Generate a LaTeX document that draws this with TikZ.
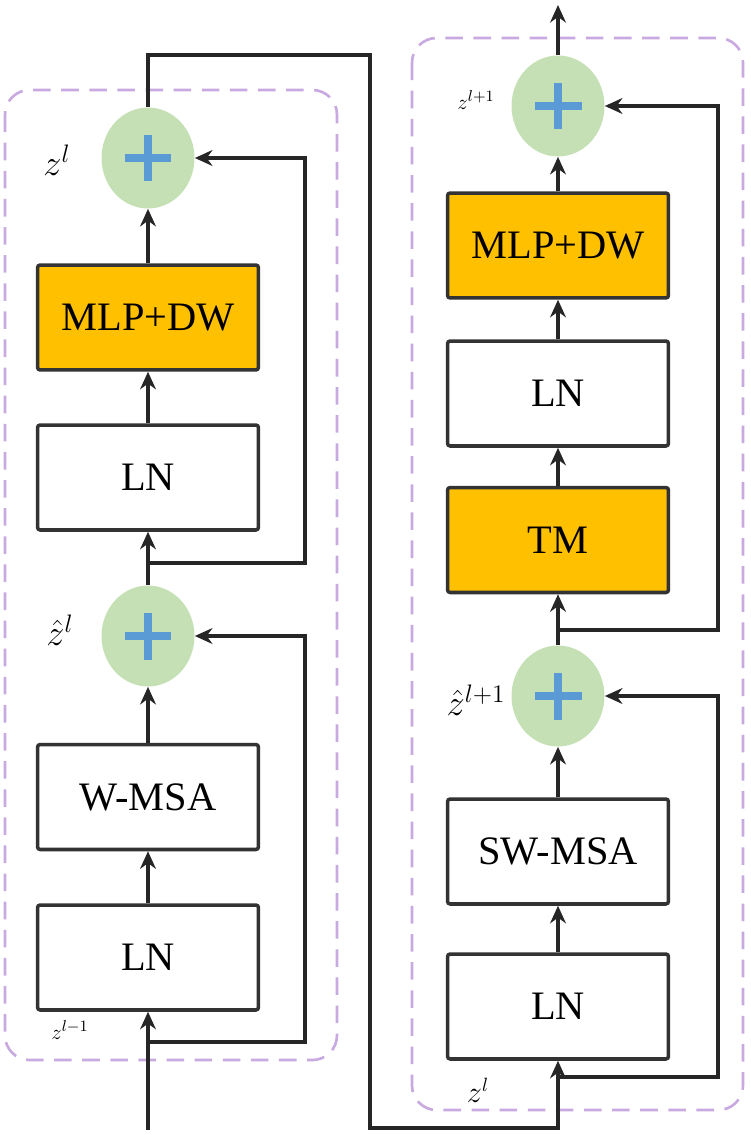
\documentclass[tikz,border=0pt]{standalone}
\usepackage{fontspec}
\setmainfont{Liberation Serif}
\usetikzlibrary{arrows.meta,calc,positioning,shapes.geometric}
\definecolor{addgreen}{RGB}{197,224,180}
\definecolor{plusblue}{RGB}{91,155,213}
\definecolor{blockorange}{RGB}{255,192,0}
\definecolor{frameviolet}{RGB}{200,170,225}
\tikzset{
  block/.style={draw=black!80, line width=2pt, rounded corners=1.5pt, fill=white,
    minimum width=4.42cm, minimum height=2.1cm, inner sep=0pt, font=\fontsize{23}{26}\selectfont},
  hotblock/.style={block, fill=blockorange},
  addnode/.style={ellipse, fill=addgreen, minimum width=1.86cm, minimum height=2.02cm, inner sep=0pt,
    path picture={\draw[plusblue, line width=4.5pt]
      ($(path picture bounding box.center)+(-0.47cm,0cm)$) -- ++(0.94cm,0cm)
      ($(path picture bounding box.center)+(0cm,-0.47cm)$) -- ++(0cm,0.94cm);}},
  flow/.style={draw=black!85, line width=1.9pt, -{Stealth[length=10pt,width=9pt]}},
  blockframe/.style={draw=frameviolet, dash pattern=on 10pt off 6pt, line width=1.5pt, rounded corners=14pt},
  lbl/.style={font=\fontsize{20}{22}\selectfont},
  slbl/.style={font=\fontsize{13}{15}\selectfont},
}
\begin{document}
\begin{tikzpicture}[x=0.02cm, y=-0.02cm]
  \useasboundingbox (0,0) rectangle (750,1135);

  % Dashed frames of the two blocks
  \draw[blockframe] (5,90) rectangle (337,1060);
  \draw[blockframe] (412,38) rectangle (743,1110);

  % Left block (W-MSA)
  \node[block] (lnA) at (148,957.5) {LN};
  \node[block] (wmsa) at (148,797) {W-MSA};
  \node[addnode] (addA) at (148,636) {};
  \node[block] (lnB) at (148,477.5) {LN};
  \node[hotblock] (mlpA) at (148,317.5) {MLP+DW};
  \node[addnode] (addB) at (148,158) {};

  % Right block (SW-MSA)
  \node[block] (lnC) at (558,1006.5) {LN};
  \node[block] (swmsa) at (558,851.5) {SW-MSA};
  \node[addnode] (addC) at (558,696) {};
  \node[hotblock] (tm) at (558,540) {TM};
  \node[block] (lnD) at (558,393.5) {LN};
  \node[hotblock] (mlpB) at (558,245.5) {MLP+DW};
  \node[addnode] (addD) at (558,106) {};

  % Labels
  \node[lbl] (zl) at (57,160) {$z^{l}$};
  \node[lbl] (zhatl) at (60,630) {$\hat{z}^{l}$};
  \node[slbl] (zlm) at (70,1030) {$z^{l-1}$};
  \node[slbl] (zlp) at (476,100) {$z^{l+1}$};
  \node[lbl] (zhatlp) at (476,700) {$\hat{z}^{l+1}$};
  \node[font=\fontsize{16}{18}\selectfont] (zlC) at (478,1090) {$z^{l}$};

  % Free ends and taps
  \coordinate (inA) at (148,1130);
  \coordinate (tapA) at (148,1042);
  \coordinate (tapB) at (148,563);
  \coordinate (tapC) at (558,1077);
  \coordinate (tapD) at (558,630);
  \coordinate (outD) at (558,5);

  % Drawing left flow
  \draw[flow] (inA) -- (lnA);
  \draw[flow] (lnA) -- (wmsa);
  \draw[flow] (wmsa) -- (addA);
  \draw[flow] (addA) -- (lnB);
  \draw[flow] (lnB) -- (mlpA);
  \draw[flow] (mlpA) -- (addB);
  \draw[flow] (tapA) -- ++(157,0) |- (addA.east);
  \draw[flow] (tapB) -- ++(157,0) |- (addB.east);

  % Drawing link between blocks
  \draw[flow] (addB.north) |- (370,55) -- (370,1128) -| (lnC.south);

  % Drawing right flow
  \draw[flow] (lnC) -- (swmsa);
  \draw[flow] (swmsa) -- (addC);
  \draw[flow] (addC) -- (tm);
  \draw[flow] (tm) -- (lnD);
  \draw[flow] (lnD) -- (mlpB);
  \draw[flow] (mlpB) -- (addD);
  \draw[flow] (addD) -- (outD);
  \draw[flow] (tapC) -- ++(160,0) |- (addC.east);
  \draw[flow] (tapD) -- ++(160,0) |- (addD.east);
\end{tikzpicture}
\end{document}
